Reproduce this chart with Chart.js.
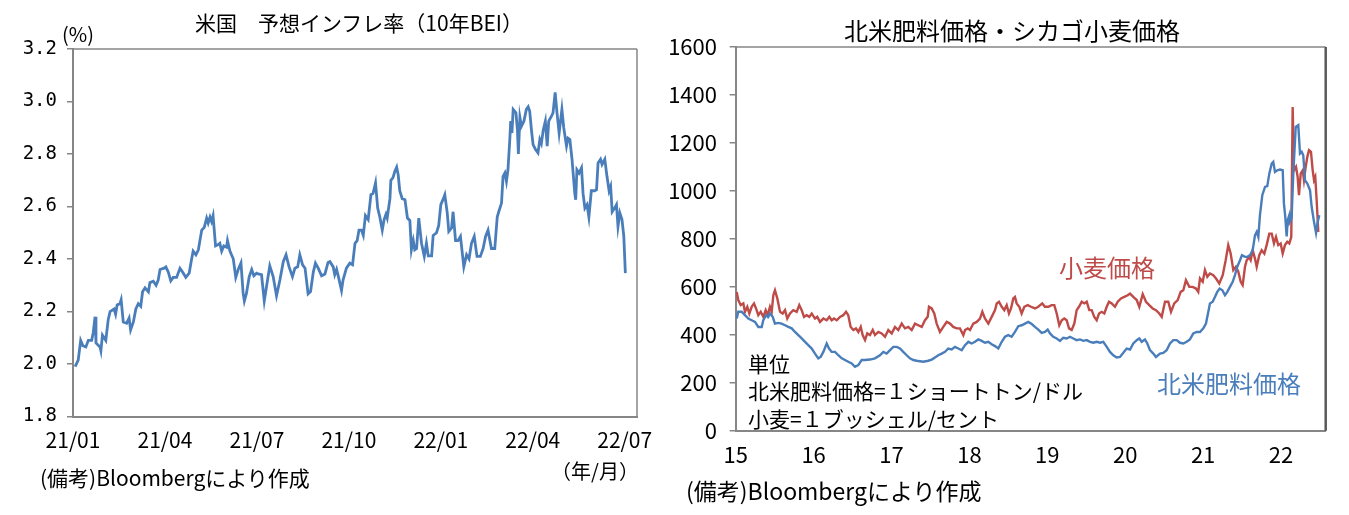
<!DOCTYPE html>
<html lang="ja">
<head>
<meta charset="utf-8">
<title>米国予想インフレ率・北米肥料価格・シカゴ小麦価格</title>
<script src="https://cdn.jsdelivr.net/npm/chart.js@4.4.1/dist/chart.umd.min.js"></script>
<style>
  body { margin: 0; background: #fff; }
  #wrap { position: relative; width: 1349px; height: 515px; font-family: "Noto Sans CJK JP", sans-serif; color: #000; overflow: hidden; }
  canvas { position: absolute; top: 0; }
  .txt { position: absolute; white-space: nowrap; line-height: 1; }
  .cx { transform: translate(-50%, -50%); }
  .lx { transform: translate(0, -50%); }
</style>
</head>
<body>
<div id="wrap">
  <canvas id="beiChart" width="660" height="515" style="left:0"></canvas>
  <canvas id="cropChart" width="689" height="515" style="left:660px"></canvas>

  <div class="txt cx" style="left:359px; top:22px; font-size:21px;">米国　予想インフレ率（10年BEI）</div>
  <div class="txt lx" style="left:62px; top:34px; font-size:20px;">(%)</div>
  <div class="txt cx" style="left:595px; top:471px; font-size:20px;">（年/月）</div>
  <div class="txt lx" style="left:40px; top:477px; font-size:21px;">(備考)Bloombergにより作成</div>

  <div class="txt cx" style="left:1012px; top:30px; font-size:24px;">北米肥料価格・シカゴ小麦価格</div>
  <div class="txt cx" style="left:1107px; top:267px; font-size:24px; color:#be4b48;">小麦価格</div>
  <div class="txt cx" style="left:1229px; top:383px; font-size:24px; color:#4a7ebb;">北米肥料価格</div>
  <div class="txt lx" style="left:748px; top:363px; font-size:21px;">単位</div>
  <div class="txt lx" style="left:748px; top:390px; font-size:21px;">北米肥料価格=１ショートトン/ドル</div>
  <div class="txt lx" style="left:748px; top:418px; font-size:21px;">小麦=１ブッシェル/セント</div>
  <div class="txt lx" style="left:686px; top:490px; font-size:23px;">(備考)Bloombergにより作成</div>
</div>

<script>
// 10年BEI: x = 2021年1月からの経過月数
const BEI_MONTH = [
  0.07,0.17,0.25,0.32,0.42,0.50,0.61,0.66,0.72,0.75,0.88,0.91,0.96,1.07,1.15,1.21,1.34,1.39,1.44,1.53,
  1.57,1.64,1.75,1.83,1.88,1.97,2.05,2.13,2.21,2.27,2.35,2.46,2.51,2.62,2.71,2.78,2.84,2.97,3.03,3.11,
  3.19,3.27,3.38,3.49,3.60,3.68,3.79,3.87,3.92,4.01,4.09,4.14,4.20,4.28,4.36,4.41,4.47,4.52,4.57,4.65,
  4.74,4.79,4.85,4.92,5.01,5.04,5.12,5.23,5.31,5.39,5.48,5.55,5.59,5.66,5.75,5.83,5.90,5.99,
  6.04,6.15,6.24,6.32,6.42,6.53,6.64,6.75,6.86,6.95,7.05,7.16,7.24,7.33,7.40,7.49,7.57,7.67,7.75,7.84,
  7.91,8.00,8.11,8.22,8.32,8.38,8.49,8.54,8.60,8.67,8.76,8.81,8.92,9.03,9.12,9.20,9.27,9.33,9.41,9.47,
  9.54,9.63,9.72,9.79,9.87,9.94,10.01,10.09,10.15,10.21,10.25,10.34,10.37,10.44,10.50,10.56,10.61,10.66,10.74,10.83,
  10.91,10.99,11.04,11.10,11.15,11.21,11.28,11.37,11.46,11.53,11.59,11.70,11.75,11.86,11.93,12.00,12.07,12.13,
  12.21,12.26,12.35,12.40,12.48,12.56,12.64,12.75,12.84,12.92,13.00,13.09,13.18,13.29,13.38,13.46,13.54,13.65,13.76,13.84,
  13.89,13.98,14.03,14.09,14.14,14.19,14.25,14.28,14.32,14.36,14.45,14.50,14.53,14.58,14.63,14.71,14.79,14.85,14.90,14.96,
  15.01,15.09,15.17,15.23,15.28,15.34,15.41,15.47,15.52,15.61,15.66,15.73,15.79,15.86,15.95,16.01,16.10,16.15,16.21,16.28,
  16.37,16.40,16.44,16.51,16.59,16.64,16.70,16.77,16.83,16.91,17.02,17.08,17.13,17.21,17.26,17.35,17.42,17.49,17.54,17.59,
  17.67,17.73,17.78,17.84,17.91,17.97,18.02
];
const BEI_VALUE = [
  1.99,2.015,2.09,2.07,2.065,2.09,2.09,2.12,2.18,2.08,2.065,2.05,2.11,2.09,2.17,2.20,2.21,2.19,2.225,2.23,
  2.245,2.16,2.155,2.175,2.13,2.16,2.21,2.23,2.22,2.275,2.29,2.275,2.31,2.315,2.30,2.32,2.36,2.365,2.37,2.35,
  2.317,2.33,2.33,2.365,2.346,2.33,2.346,2.40,2.43,2.416,2.435,2.47,2.51,2.52,2.556,2.537,2.56,2.543,2.565,2.45,
  2.455,2.46,2.43,2.45,2.445,2.47,2.43,2.40,2.33,2.36,2.385,2.27,2.24,2.27,2.333,2.36,2.336,2.346,
  2.343,2.34,2.24,2.30,2.374,2.333,2.26,2.32,2.39,2.416,2.37,2.333,2.365,2.37,2.416,2.378,2.365,2.267,2.276,2.35,
  2.384,2.365,2.336,2.343,2.387,2.39,2.37,2.34,2.36,2.327,2.28,2.32,2.365,2.384,2.378,2.46,2.47,2.51,2.51,2.49,
  2.565,2.55,2.645,2.65,2.69,2.594,2.56,2.51,2.55,2.57,2.556,2.63,2.70,2.71,2.734,2.75,2.72,2.66,2.63,2.626,
  2.556,2.547,2.435,2.47,2.435,2.44,2.556,2.46,2.41,2.46,2.412,2.412,2.49,2.50,2.527,2.607,2.626,2.645,
  2.575,2.505,2.518,2.58,2.47,2.47,2.486,2.37,2.416,2.40,2.46,2.486,2.41,2.41,2.44,2.486,2.51,2.44,2.44,2.56,
  2.58,2.613,2.715,2.728,2.696,2.74,2.855,2.925,2.88,2.97,2.957,2.89,2.80,2.94,2.906,2.925,2.97,2.98,2.963,2.887,
  2.836,2.817,2.804,2.855,2.84,2.89,2.925,2.83,2.925,2.944,2.957,3.035,2.957,2.88,2.97,2.90,2.83,2.86,2.855,2.78,
  2.65,2.626,2.74,2.727,2.747,2.65,2.594,2.607,2.56,2.66,2.66,2.664,2.766,2.78,2.76,2.78,2.715,2.66,2.677,2.58,
  2.594,2.607,2.524,2.575,2.55,2.486,2.346
];
const BEI_TICK_LABELS = ['21/01', '21/04', '21/07', '21/10', '22/01', '22/04', '22/07'];

// 北米肥料価格 (ドル/ショートトン), x = 年 (15 = 2015年初)
const FERT_YEAR = [
  15.013,15.033,15.077,15.119,15.162,15.205,15.248,15.290,15.334,15.354,
  15.389,15.418,15.440,15.475,15.504,15.547,15.590,15.633,15.675,15.719,
  15.761,15.804,15.847,15.890,15.932,15.976,16.018,16.060,16.091,16.125,
  16.168,16.198,16.232,16.275,16.317,16.361,16.403,16.445,16.489,16.531,
  16.574,16.617,16.660,16.724,16.788,16.852,16.895,16.938,16.981,17.023,
  17.067,17.109,17.151,17.195,17.237,17.280,17.323,17.366,17.408,17.472,
  17.516,17.558,17.601,17.644,17.687,17.729,17.773,17.815,17.858,17.901,
  17.944,17.986,18.029,18.072,18.114,18.158,18.200,18.243,18.286,18.329,
  18.371,18.415,18.457,18.499,18.543,18.585,18.628,18.671,18.714,18.756,
  18.800,18.842,18.884,18.928,18.970,19.005,19.035,19.077,19.121,19.163,
  19.205,19.249,19.291,19.334,19.377,19.420,19.462,19.506,19.548,19.591,
  19.634,19.677,19.719,19.763,19.805,19.847,19.891,19.933,19.976,20.019,
  20.062,20.104,20.148,20.181,20.212,20.254,20.284,20.318,20.361,20.395,
  20.447,20.489,20.532,20.575,20.617,20.661,20.703,20.746,20.789,20.831,
  20.874,20.918,20.960,21.003,21.037,21.067,21.088,21.123,21.152,21.182,
  21.213,21.248,21.281,21.311,21.345,21.380,21.409,21.439,21.474,21.499,
  21.538,21.567,21.602,21.637,21.666,21.688,21.709,21.730,21.760,21.795,
  21.824,21.850,21.881,21.901,21.923,21.952,21.987,22.022,22.038,22.055,
  22.073,22.086,22.107,22.114,22.136,22.158,22.189,22.222,22.244,22.266,
  22.286,22.308,22.338,22.373,22.394,22.424,22.450,22.471,22.492
];
const FERT_PRICE = [
  468,496,496,482,468,461,454,433,433,461,
  482,475,489,475,447,450,447,440,433,427,
  412,399,385,371,357,343,322,302,308,329,
  364,343,329,329,315,302,295,288,281,267,
  274,295,295,297,302,315,329,322,336,350,
  350,343,329,315,302,295,292,290,288,292,
  297,306,315,322,329,343,339,350,343,336,
  357,371,364,371,381,375,367,371,361,353,
  343,371,392,399,392,412,436,440,447,454,
  445,433,422,408,412,422,406,392,385,375,
  388,385,392,385,378,381,375,378,371,367,
  371,367,371,350,329,315,306,308,325,343,
  339,364,378,385,371,381,364,336,322,308,
  322,325,336,364,378,378,367,364,371,381,
  406,412,412,427,447,496,531,538,558,579,
  593,586,565,579,600,621,649,684,711,732,
  725,725,732,753,815,829,808,899,982,1017,
  1020,1072,1114,1121,1079,1086,1089,1086,947,892,
  810,878,899,871,885,1072,1267,1274,1156,1163,
  1149,1045,1031,1003,933,871,825,871,899
];

// シカゴ小麦価格 (セント/ブッシェル)
const WHEAT_YEAR = [
  15.013,15.033,15.064,15.098,15.119,15.149,15.175,15.205,15.235,15.261,
  15.290,15.321,15.354,15.385,15.411,15.440,15.462,15.483,15.504,15.534,
  15.569,15.603,15.633,15.662,15.697,15.739,15.783,15.816,15.847,15.877,
  15.911,15.945,15.976,16.018,16.047,16.082,16.125,16.168,16.202,16.232,
  16.262,16.297,16.339,16.381,16.416,16.445,16.476,16.510,16.544,16.574,
  16.605,16.630,16.660,16.689,16.724,16.759,16.788,16.831,16.874,16.917,
  16.959,17.003,17.045,17.087,17.131,17.173,17.216,17.259,17.302,17.344,
  17.388,17.430,17.465,17.481,17.516,17.549,17.580,17.622,17.665,17.709,
  17.751,17.793,17.837,17.879,17.922,17.944,17.978,18.008,18.050,18.094,
  18.136,18.166,18.200,18.243,18.286,18.329,18.351,18.380,18.415,18.448,
  18.479,18.508,18.534,18.564,18.585,18.607,18.641,18.671,18.705,18.748,
  18.791,18.842,18.884,18.936,18.970,19.013,19.056,19.090,19.121,19.154,
  19.185,19.218,19.249,19.279,19.313,19.347,19.377,19.407,19.442,19.475,
  19.506,19.539,19.570,19.603,19.634,19.664,19.698,19.732,19.763,19.792,
  19.827,19.869,19.904,19.946,19.988,20.032,20.062,20.104,20.148,20.181,
  20.225,20.267,20.309,20.353,20.395,20.438,20.469,20.511,20.553,20.588,
  20.630,20.674,20.712,20.746,20.780,20.823,20.866,20.909,20.938,20.960,
  20.995,21.024,21.054,21.088,21.131,21.166,21.208,21.252,21.290,21.323,
  21.354,21.388,21.422,21.452,21.483,21.508,21.538,21.560,21.589,21.611,
  21.637,21.666,21.688,21.721,21.752,21.786,21.816,21.850,21.881,21.910,
  21.936,21.965,21.996,22.022,22.051,22.081,22.107,22.132,22.150,22.167,
  22.193,22.214,22.231,22.253,22.279,22.295,22.317,22.338,22.360,22.385,
  22.407,22.424,22.440,22.458,22.479
];
const WHEAT_PRICE = [
  579,545,524,531,496,517,489,517,531,510,
  482,496,475,503,482,517,496,565,586,552,
  496,489,503,468,489,503,496,524,503,475,
  482,475,489,468,475,454,468,461,475,461,
  468,461,475,482,496,482,433,420,427,412,
  433,399,378,406,399,420,399,412,406,392,
  420,406,433,420,447,427,433,420,447,440,
  433,461,475,517,510,489,447,412,433,454,
  447,433,427,427,399,420,427,420,447,454,
  468,496,468,447,475,503,531,538,517,503,
  524,489,510,552,558,531,517,489,517,524,
  517,510,517,531,517,517,524,524,489,440,
  461,468,461,427,420,447,503,517,538,531,
  538,503,503,475,461,489,496,489,517,538,
  531,517,538,552,558,565,572,558,545,517,
  570,538,524,510,503,489,475,538,538,496,
  531,545,579,586,628,600,600,593,579,635,
  621,670,642,656,649,635,614,649,711,774,
  739,670,684,663,621,607,684,711,725,711,
  753,718,684,732,753,739,774,822,822,781,
  808,774,781,739,774,788,781,808,1350,1086,
  1100,1058,982,1072,1086,1045,1100,1142,1170,1163,
  1086,1045,1058,961,829
];
const YEAR_TICK_LABELS = ['15', '16', '17', '18', '19', '20', '21', '22'];

const BLUE = '#4a7ebb';
const RED = '#be4b48';
const AXIS_GRAY = '#868686';

function toPoints(xs, ys) {
  return xs.map((x, i) => ({ x: x, y: ys[i] }));
}

// 枠の上辺と右辺
const plotBox = {
  id: 'plotBox',
  afterDraw(chart, args, opts) {
    const a = chart.chartArea;
    const ctx = chart.ctx;
    ctx.save();
    ctx.lineWidth = opts.topWidth;
    ctx.strokeStyle = opts.topColor;
    ctx.beginPath();
    ctx.moveTo(a.left, a.top);
    ctx.lineTo(a.right, a.top);
    ctx.stroke();
    ctx.lineWidth = opts.rightWidth;
    ctx.strokeStyle = opts.rightColor;
    ctx.beginPath();
    ctx.moveTo(a.right, a.top);
    ctx.lineTo(a.right, a.bottom);
    ctx.stroke();
    ctx.restore();
  }
};

Chart.defaults.font.family = '"Noto Sans CJK JP", sans-serif';
Chart.defaults.color = '#000';

new Chart(document.getElementById('beiChart'), {
  type: 'line',
  data: {
    datasets: [{
      data: toPoints(BEI_MONTH, BEI_VALUE),
      borderColor: BLUE,
      borderWidth: 2.8,
      pointRadius: 0,
      tension: 0
    }]
  },
  options: {
    responsive: false,
    animation: false,
    devicePixelRatio: 1,
    layout: { padding: { left: 0, right: 23, top: 49, bottom: 0 } },
    plugins: {
      legend: { display: false },
      tooltip: { enabled: false },
      plotBox: { topColor: AXIS_GRAY, topWidth: 1.5, rightColor: AXIS_GRAY, rightWidth: 1.5 }
    },
    scales: {
      x: {
        type: 'linear', min: 0, max: 18.4,
        grid: { display: false },
        border: { display: true, color: AXIS_GRAY, width: 2 },
        ticks: {
          stepSize: 3, includeBounds: false, autoSkip: false, maxRotation: 0, padding: 3,
          font: { family: '"Noto Sans CJK JP"', size: 21 },
          callback: v => BEI_TICK_LABELS[Math.round(v / 3)]
        },
        afterFit: s => { s.height = 98.5; }
      },
      y: {
        min: 1.8, max: 3.2,
        grid: { drawOnChartArea: false, tickLength: 6, color: AXIS_GRAY, lineWidth: 1.5 },
        border: { display: true, color: AXIS_GRAY, width: 2 },
        ticks: {
          stepSize: 0.2, padding: 10,
          font: { family: '"DejaVu Sans Mono"', size: 19 },
          callback: v => v.toFixed(1)
        },
        afterFit: s => { s.width = 73; }
      }
    }
  },
  plugins: [plotBox]
});

new Chart(document.getElementById('cropChart'), {
  type: 'line',
  data: {
    datasets: [
      {
        label: '北米肥料価格',
        data: toPoints(FERT_YEAR, FERT_PRICE),
        borderColor: BLUE,
        borderWidth: 2.4,
        pointRadius: 0,
        tension: 0
      },
      {
        label: '小麦価格',
        data: toPoints(WHEAT_YEAR, WHEAT_PRICE),
        borderColor: RED,
        borderWidth: 2.4,
        pointRadius: 0,
        tension: 0
      }
    ]
  },
  options: {
    responsive: false,
    animation: false,
    devicePixelRatio: 1,
    layout: { padding: { left: 0, right: 23.3, top: 47, bottom: 0 } },
    plugins: {
      legend: { display: false },
      tooltip: { enabled: false },
      plotBox: { topColor: AXIS_GRAY, topWidth: 1.5, rightColor: '#595959', rightWidth: 2.5 }
    },
    scales: {
      x: {
        type: 'linear', min: 15, max: 22.574,
        grid: { display: false },
        border: { display: true, color: AXIS_GRAY, width: 2 },
        ticks: {
          stepSize: 1, includeBounds: false, autoSkip: false, maxRotation: 0, padding: 3,
          font: { size: 22 },
          callback: v => YEAR_TICK_LABELS[Math.round(v - 15)]
        },
        afterFit: s => { s.height = 84.2; }
      },
      y: {
        min: 0, max: 1600,
        grid: { drawOnChartArea: false, tickLength: 6, color: AXIS_GRAY, lineWidth: 1.5 },
        border: { display: true, color: AXIS_GRAY, width: 2 },
        ticks: { stepSize: 200, padding: 12.7, font: { size: 22 }, callback: v => String(v) },
        afterFit: s => { s.width = 75.7; }
      }
    }
  },
  plugins: [plotBox]
});
</script>
</body>
</html>
